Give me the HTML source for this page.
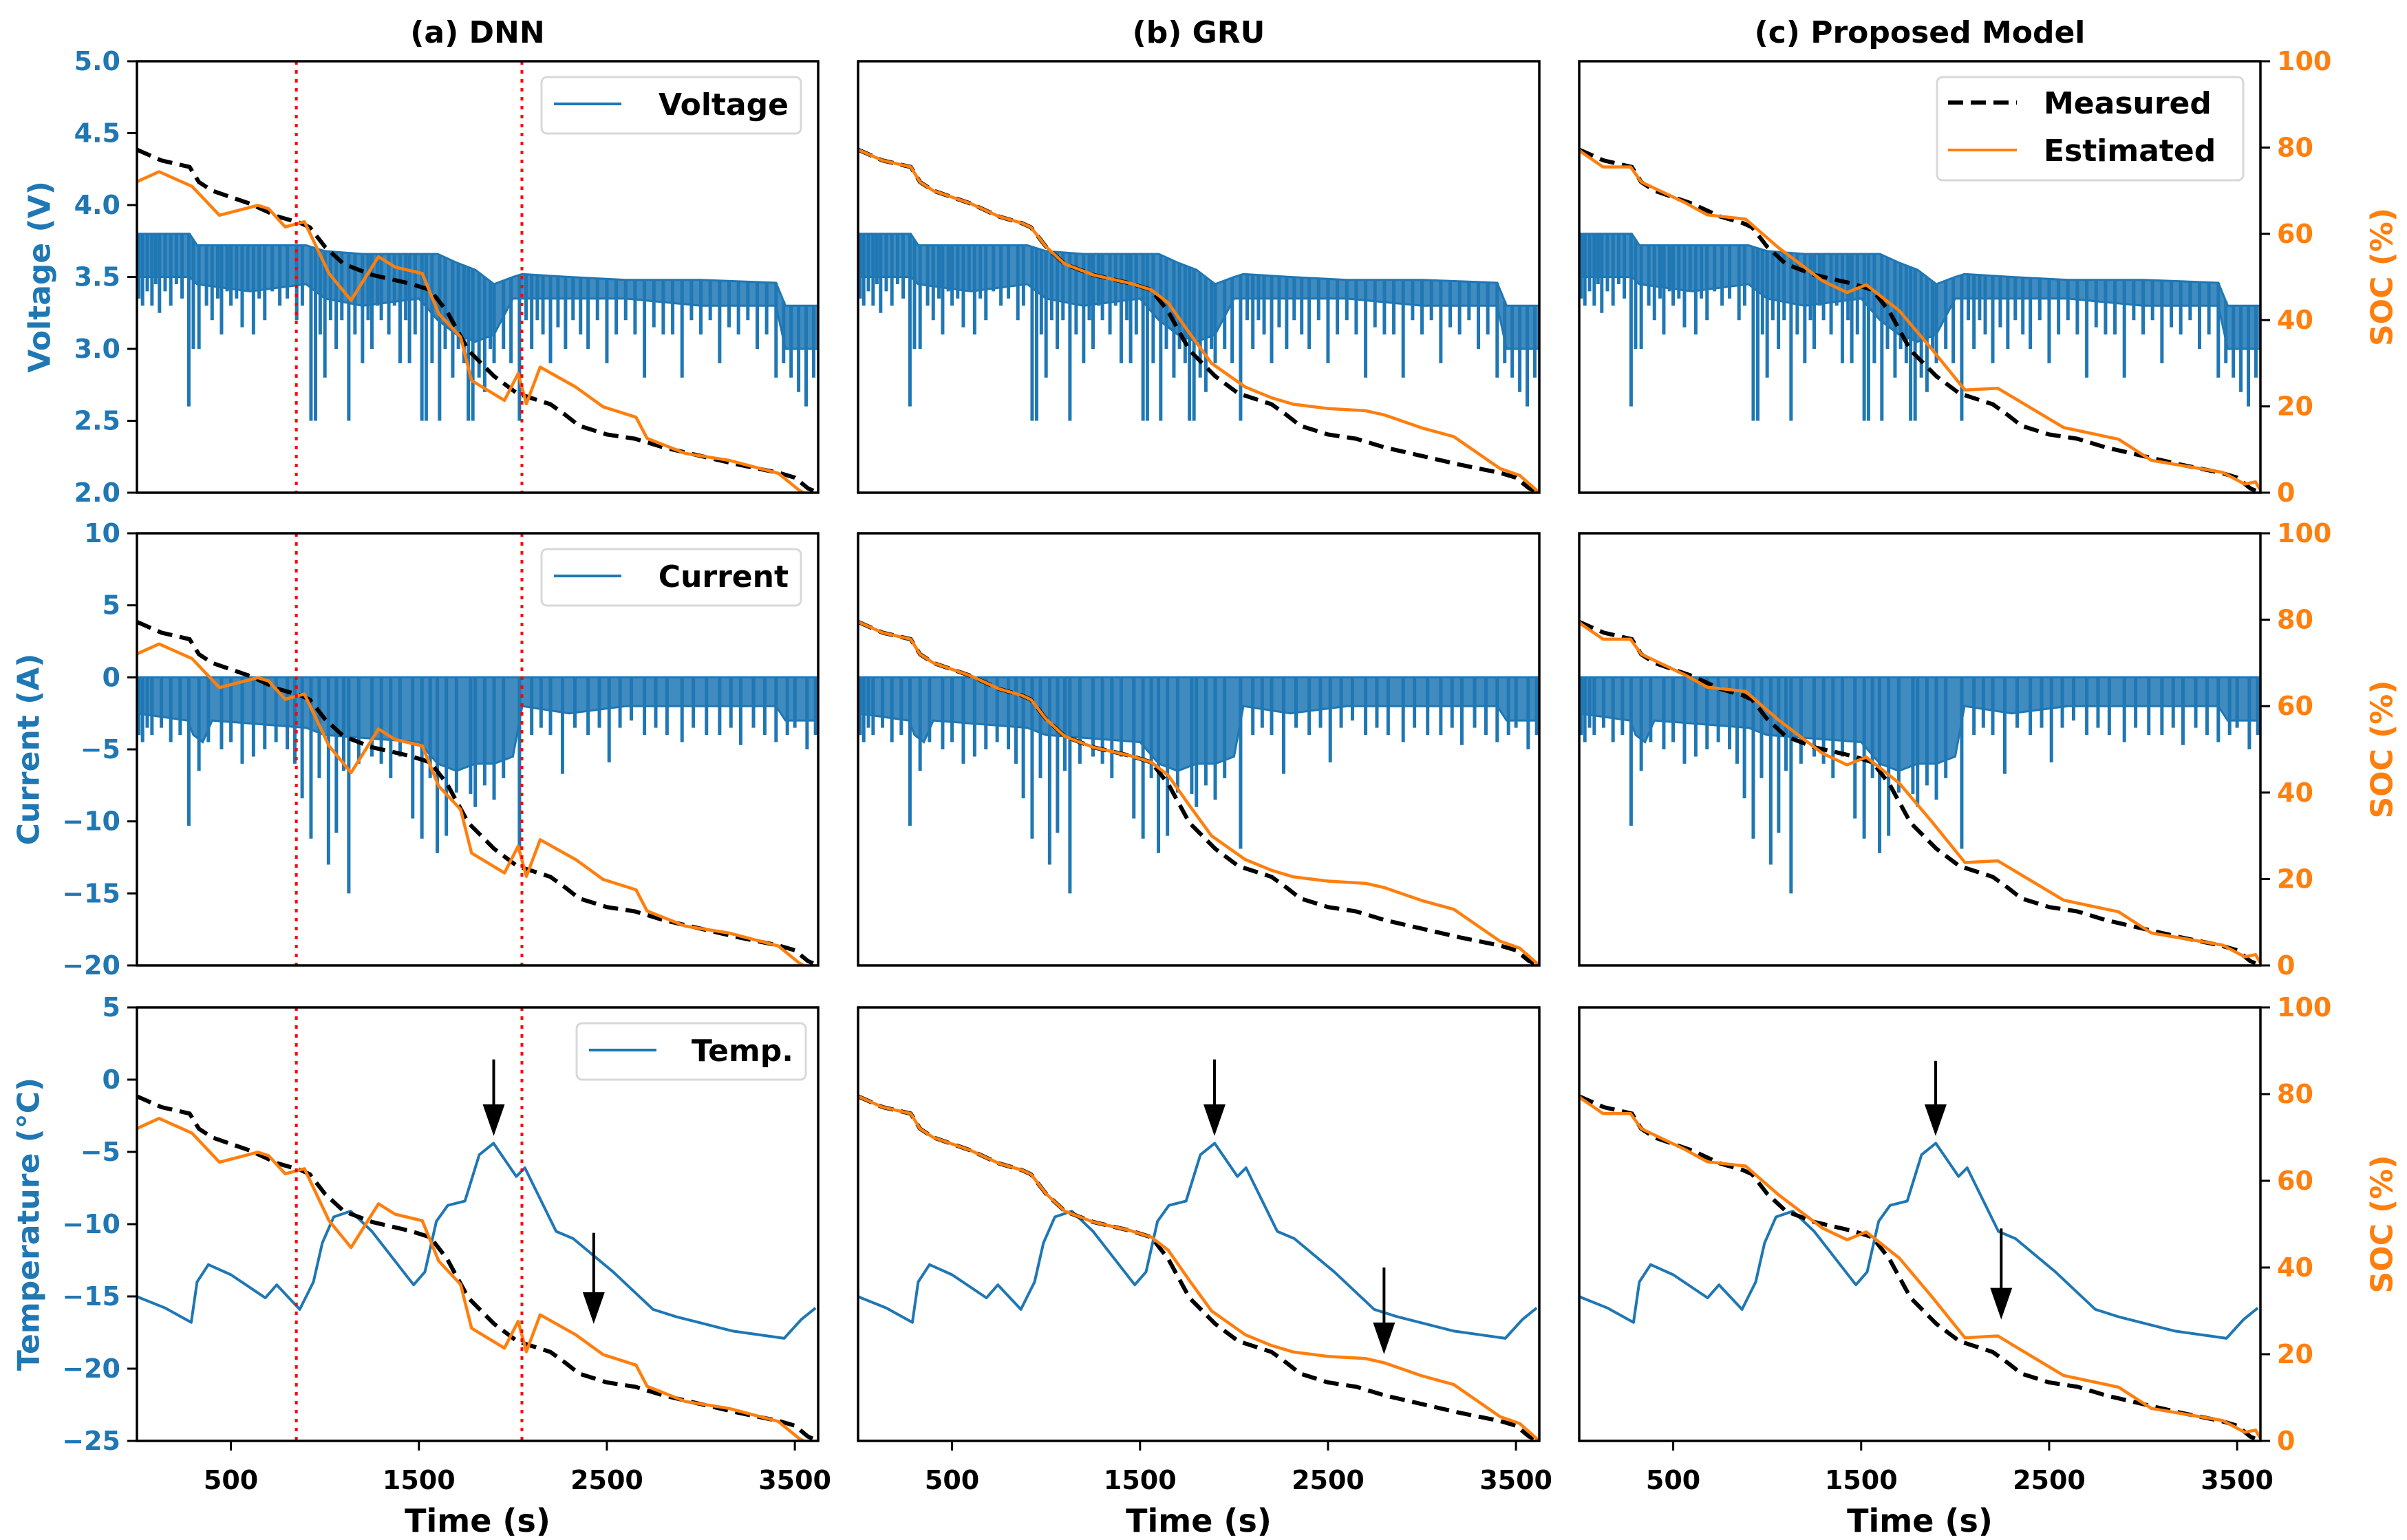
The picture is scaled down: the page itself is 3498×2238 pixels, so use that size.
<!DOCTYPE html>
<html><head><meta charset="utf-8"><style>
html,body{margin:0;padding:0;background:#fff;}
svg{display:block;}
text{font-family:"DejaVu Sans","Liberation Sans",sans-serif;font-weight:bold;}
</style></head><body>
<svg id="fig" width="3498" height="2238" viewBox="0 0 3498 2238" xmlns="http://www.w3.org/2000/svg"></svg>
<script>
// ---- data ----
const timeTicks=[500,1500,2500,3500];
const socTicks=[0,20,40,60,80,100];
const voltTicks=[2.0,2.5,3.0,3.5,4.0,4.5,5.0];
const currTicks=[-20,-15,-10,-5,0,5,10];
const tempTicks=[-25,-20,-15,-10,-5,0,5];
const panelTitles=["(a) DNN","(b) GRU","(c) Proposed Model"];
const dnnMarkers=[848,2048];

const measT=[0,130,280,330,400,600,750,870,920,1000,1100,1250,1450,1560,1650,1763,1900,2023,2200,2280,2353,2500,2650,2801,3000,3200,3415,3500,3570,3624];
const measS=[79.5,77,75.5,72,70,67,64,62.5,61.5,57,53,50.5,48.5,47,42,33,27,23,20.5,18,15.5,13.5,12.5,10.5,8.5,6.5,4.6,3.5,1,0];

const dnnT=[0,16,118,293,439,643,701,789,891,1022,1139,1285,1373,1518,1605,1722,1780,1955,2028,2072,2145,2334,2480,2655,2714,2917,3150,3412,3522,3624];
const dnnS=[72,72.4,74.4,71,64.3,66.6,65.8,61.6,62.8,50.8,44.6,54.7,52.3,50.8,41.5,36.1,26,21.4,27.6,20.6,29.1,24.5,19.9,17.5,12.6,9.1,7.5,4.5,0.6,-2];

const gruT=[0,130,280,330,400,600,750,870,920,1000,1100,1250,1450,1560,1650,1763,1880,2060,2200,2316,2500,2700,2801,3000,3169,3415,3520,3624];
const gruS=[79.5,77,75.5,72,70,67,64,62.5,61.5,57,53,50.5,48.5,47,44,37,30,24.5,22,20.5,19.5,19,18,15,13,5.6,4,0];

const propT=[0,10,127,273,331,564,681,885,1060,1294,1425,1527,1702,1877,2052,2227,2577,2869,3044,3423,3540,3598,3624];
const propS=[79.5,79,75.5,75.5,72,67.2,64.4,63.4,56.8,49.1,46.4,48.2,42.2,33.2,23.8,24.2,15.1,12.4,7.5,4.7,2,2.5,0.6];

const voltBandT=[0,280,320,600,900,1000,1200,1500,1600,1700,1800,1900,2000,2050,2300,2600,3000,3400,3450,3624];
const voltBandHi=[3.8,3.8,3.72,3.72,3.72,3.68,3.66,3.66,3.66,3.6,3.55,3.45,3.5,3.52,3.5,3.48,3.48,3.46,3.3,3.3];
const voltBandLo=[3.5,3.5,3.45,3.4,3.45,3.35,3.3,3.35,3.2,3.1,3.05,3.1,3.35,3.35,3.35,3.35,3.3,3.3,3.0,3.0];
const voltSpikeT=[10,30,55,80,100,120,150,180,210,240,276,300,330,370,400,430,450,480,500,530,560,590,620,650,680,720,760,800,850,880,926,950,975,1000,1030,1060,1090,1127,1160,1200,1230,1250,1280,1300,1340,1370,1400,1430,1450,1480,1516,1539,1570,1610,1640,1680,1710,1740,1763,1787,1820,1850,1880,1900,1950,1990,2035,2070,2100,2130,2160,2200,2240,2280,2320,2360,2400,2450,2500,2550,2600,2650,2700,2750,2800,2850,2900,2950,3000,3050,3100,3150,3200,3250,3300,3350,3400,3440,3480,3520,3560,3600];
const voltSpikeMin=[3.35,3.3,3.4,3.3,3.45,3.25,3.4,3.3,3.45,3.35,2.6,3.0,3.0,3.3,3.2,3.35,3.1,3.4,3.3,3.35,3.15,3.4,3.1,3.35,3.2,3.4,3.3,3.35,3.2,3.3,2.5,2.5,3.1,2.8,3.2,3.0,3.2,2.5,3.1,2.9,3.2,3.0,3.3,3.2,3.1,3.3,2.9,3.2,2.9,3.1,2.5,2.5,2.9,2.5,3.0,2.8,3.0,2.9,2.5,2.5,2.8,2.7,3.0,2.9,3.0,2.9,2.5,3.2,3.0,3.2,3.1,2.9,3.15,3.0,3.2,3.1,3.0,3.2,2.9,3.1,3.2,3.1,2.8,3.15,3.1,3.1,2.8,3.2,3.1,3.2,2.9,3.15,3.1,3.2,3.0,3.1,2.8,2.9,2.8,2.7,2.6,2.8];

const currBandT=[0,270,300,350,400,900,1000,1500,1600,1700,1800,1900,2000,2050,2300,2600,3000,3400,3450,3624];
const currBandLo=[-2.5,-3,-4,-4.5,-3,-3.5,-4,-4.5,-6,-6.5,-6,-6,-5.5,-2,-2.5,-2,-2,-2,-3,-3];
const currSpikeT=[10,30,55,80,130,180,230,276,330,380,450,500,560,620,680,740,800,840,879,926,970,1019,1061,1100,1127,1180,1250,1300,1350,1400,1467,1516,1560,1598,1646,1700,1775,1800,1850,1900,1950,2035,2100,2150,2200,2264,2330,2400,2460,2512,2570,2630,2700,2760,2820,2900,2960,3030,3100,3160,3212,3280,3340,3400,3460,3500,3565,3610];
const currSpikeMin=[-4,-4.5,-3.5,-4,-3.5,-4.5,-4,-10.3,-6.5,-4.5,-5,-4.5,-6,-5.5,-5,-4.5,-5,-6,-8.4,-11.2,-7,-13,-10.8,-6.5,-15,-6,-5.5,-6,-7,-5.5,-9.8,-11.2,-7,-12.2,-11,-8,-8.1,-9,-7.5,-8.5,-7,-11.9,-4,-3.5,-4,-6.7,-3.5,-4,-3.5,-5.9,-3.5,-3,-4,-3.5,-4,-4.5,-3.5,-4,-4,-3.5,-4.7,-3.5,-4,-4.5,-4,-3.5,-5,-4];

const tempT=[0,16,150,289,320,380,500,683,744,866,939,986,1047,1137,1250,1472,1532,1593,1654,1745,1821,1897,2018,2064,2230,2321,2533,2746,2867,3170,3443,3534,3610];
const tempV=[-15,-15.1,-15.8,-16.8,-14,-12.8,-13.5,-15.1,-14.2,-15.9,-14,-11.3,-9.5,-9.1,-10.5,-14.2,-13.3,-9.8,-8.7,-8.4,-5.2,-4.4,-6.7,-6.1,-10.5,-11,-13.3,-15.9,-16.4,-17.4,-17.9,-16.6,-15.8];

const arrowT=[[1898,2430],[1896,2798],[1896,2245]];
const arrowTop=[[1.4,-10.6],[1.4,-13],[1.3,-10.3]];
const arrowTip=[[-3.9,-16.9],[-3.9,-19],[-3.9,-16.6]];

// ---- layout ----
const NS="http://www.w3.org/2000/svg";
const svg=document.getElementById('fig');
const colL=[199,1247,2295], colW=990;
const rowT=[89,775,1464], rowH=[627,628,630];
const XMAX=3624;
const BLUE="#1f77b4", ORANGE="#ff7f0e";
const yRanges=[[2,5],[-20,10],[-25,5]];

function el(tag,attrs,parent){const e=document.createElementNS(NS,tag);for(const k in attrs)e.setAttribute(k,attrs[k]);(parent||svg).appendChild(e);return e;}
function xS(c,t){return colL[c]+t/XMAX*colW;}
function yS(r,v){const [a,b]=yRanges[r];return rowT[r]+rowH[r]*(1-(v-a)/(b-a));}
function sS(r,s){return rowT[r]+rowH[r]*(1-s/100);}
function interp(ts,vs,t){if(t<=ts[0])return vs[0];for(let i=1;i<ts.length;i++){if(t<=ts[i]){const f=(t-ts[i-1])/(ts[i]-ts[i-1]);return vs[i-1]+f*(vs[i]-vs[i-1]);}}return vs[vs.length-1];}
function fmt(v,d){const s=v.toFixed(d);return v<0?"\u2212"+s.slice(1):s;}

const defs=el('defs',{});
for(let r=0;r<3;r++)for(let c=0;c<3;c++){
  const cp=el('clipPath',{id:`clip${r}${c}`},defs);
  el('rect',{x:colL[c],y:rowT[r],width:colW,height:rowH[r]},cp);
}

for(let c=0;c<3;c++){
  const t=el('text',{x:colL[c]+colW/2,y:62,'text-anchor':'middle','font-size':44,fill:'#000'});
  
  
  t.textContent=panelTitles[c];
}

const estT=[dnnT,gruT,propT], estS=[dnnS,gruS,propS];

for(let r=0;r<3;r++){
  for(let c=0;c<3;c++){
    const g=el('g',{'clip-path':`url(#clip${r}${c})`});
    
    
    if(r===0||r===1){
      const bT=r===0?voltBandT:currBandT;
      const hi=r===0?voltBandHi:bT.map(()=>0);
      const lo=r===0?voltBandLo:currBandLo;
      let d='';
      bT.forEach((t,i)=>{d+=(i?'L':'M')+xS(c,t).toFixed(1)+','+yS(r,hi[i]).toFixed(1);});
      for(let i=bT.length-1;i>=0;i--)d+='L'+xS(c,bT[i]).toFixed(1)+','+yS(r,lo[i]).toFixed(1);
      const band=el('path',{d:d+'Z',fill:BLUE,'fill-opacity':0.85,stroke:BLUE,'stroke-width':3},g);
      
      
      const sT=r===0?voltSpikeT:currSpikeT, sM=r===0?voltSpikeMin:currSpikeMin;
      sT.forEach((t,i)=>{
        const top=r===0?interp(voltBandT,voltBandHi,t):0;
        const ln=el('line',{x1:xS(c,t),x2:xS(c,t),y1:yS(r,top),y2:yS(r,sM[i]),stroke:BLUE,'stroke-width':5},g);
        
        
      });
    } else {
      const pts=tempT.map((t,i)=>xS(c,t).toFixed(1)+','+yS(r,tempV[i]).toFixed(1)).join(' ');
      const pl=el('polyline',{points:pts,fill:'none',stroke:BLUE,'stroke-width':4,'stroke-linejoin':'round'},g);
      
      
    }
    const mp=measT.map((t,i)=>xS(c,t).toFixed(1)+','+sS(r,measS[i]).toFixed(1)).join(' ');
    const ml=el('polyline',{points:mp,fill:'none',stroke:'#000','stroke-width':6,'stroke-dasharray':'22,11'},g);
    
    
    const ep=estT[c].map((t,i)=>xS(c,t).toFixed(1)+','+sS(r,estS[c][i]).toFixed(1)).join(' ');
    const ell=el('polyline',{points:ep,fill:'none',stroke:ORANGE,'stroke-width':4.5,'stroke-linejoin':'round'},g);
    
    
    if(c===0){
      dnnMarkers.forEach(t=>{
        const rl=el('line',{x1:xS(c,t),x2:xS(c,t),y1:rowT[r],y2:rowT[r]+rowH[r],stroke:'#ff0000','stroke-width':4,'stroke-dasharray':'5,8'},g);
        
        
      });
    }
    if(r===2){
      for(let k=0;k<2;k++){
        const ax=xS(c,arrowT[c][k]), y1=yS(r,arrowTop[c][k]), y2=yS(r,arrowTip[c][k]);
        const sh=el('line',{x1:ax,x2:ax,y1:y1,y2:y2-40,stroke:'#000','stroke-width':4},g);
        
        
        const hd=el('polygon',{points:`${ax-16},${y2-46} ${ax+16},${y2-46} ${ax},${y2}`,fill:'#000'},g);
        
        
      }
    }
    const fr=el('rect',{x:colL[c],y:rowT[r],width:colW,height:rowH[r],fill:'none',stroke:'#000','stroke-width':3.5});
    
    
    if(r===2){
      timeTicks.forEach(tv=>{
        const x=xS(c,tv);
        el('line',{x1:x,x2:x,y1:rowT[r]+rowH[r],y2:rowT[r]+rowH[r]+14,stroke:'#000','stroke-width':3});
        const tl=el('text',{x:x,y:2164,'text-anchor':'middle','font-size':38,fill:'#000'});
        
        
        tl.textContent=tv;
      });
      const xl=el('text',{x:colL[c]+colW/2,y:2226,'text-anchor':'middle','font-size':46,fill:'#000'});
      
      
      xl.textContent='Time (s)';
    }
  }
  const lt=r===0?voltTicks:r===1?currTicks:tempTicks;
  lt.forEach(v=>{
    const y=yS(r,v);
    el('line',{x1:colL[0]-14,x2:colL[0],y1:y,y2:y,stroke:'#000','stroke-width':3});
    const tl=el('text',{x:colL[0]-24,y:y+13,'text-anchor':'end','font-size':38,fill:BLUE});
    
    
    tl.textContent=r===0?fmt(v,1):fmt(v,0);
  });
  const labels=['Voltage (V)','Current (A)','Temperature (\u00b0C)'];
  const lx=r===0?58:42;
  const yl=el('text',{x:lx,y:rowT[r]+rowH[r]/2,'text-anchor':'middle','font-size':44,fill:BLUE,transform:`rotate(-90 ${lx} ${rowT[r]+rowH[r]/2})`,'dominant-baseline':'central'});
  
  
  yl.textContent=labels[r];
  const rx=colL[2]+colW;
  socTicks.forEach(s=>{
    const y=sS(r,s);
    el('line',{x1:rx,x2:rx+14,y1:y,y2:y,stroke:'#000','stroke-width':3});
    const tl=el('text',{x:rx+24,y:y+13,'text-anchor':'start','font-size':38,fill:ORANGE});
    
    
    tl.textContent=s;
  });
  const sx=3462, sy=rowT[r]+rowH[r]/2;
  const sl=el('text',{x:sx,y:sy,'text-anchor':'middle','font-size':44,fill:ORANGE,transform:`rotate(-90 ${sx} ${sy})`,'dominant-baseline':'central'});
  
  
  sl.textContent='SOC (%)';
}

const legNames=['Voltage','Current','Temp.'];
const legX=[[787,1164],[787,1164],[838,1171]];
for(let r=0;r<3;r++){
  const y0=rowT[r]+23;
  const lg=el('g',{});
  
  
  el('rect',{x:legX[r][0],y:y0,width:legX[r][1]-legX[r][0],height:82,rx:8,fill:'#fff','fill-opacity':0.85,stroke:'#d8d8d8','stroke-width':3},lg);
  el('line',{x1:legX[r][0]+18,x2:legX[r][0]+116,y1:y0+39,y2:y0+39,stroke:BLUE,'stroke-width':4},lg);
  const t=el('text',{x:legX[r][1]-18,y:y0+55,'text-anchor':'end','font-size':44,fill:'#000'},lg);
  t.textContent=legNames[r];
}
const lg2=el('g',{});


el('rect',{x:2815,y:112,width:445,height:150,rx:8,fill:'#fff','fill-opacity':0.85,stroke:'#d8d8d8','stroke-width':3},lg2);
el('line',{x1:2831,x2:2931,y1:149,y2:149,stroke:'#000','stroke-width':6,'stroke-dasharray':'22,11'},lg2);
el('line',{x1:2831,x2:2931,y1:218,y2:218,stroke:ORANGE,'stroke-width':4},lg2);
const m1=el('text',{x:2970,y:165,'font-size':44,fill:'#000'},lg2);m1.textContent='Measured';
const m2=el('text',{x:2970,y:234,'font-size':44,fill:'#000'},lg2);m2.textContent='Estimated';
</script>
</body></html>
